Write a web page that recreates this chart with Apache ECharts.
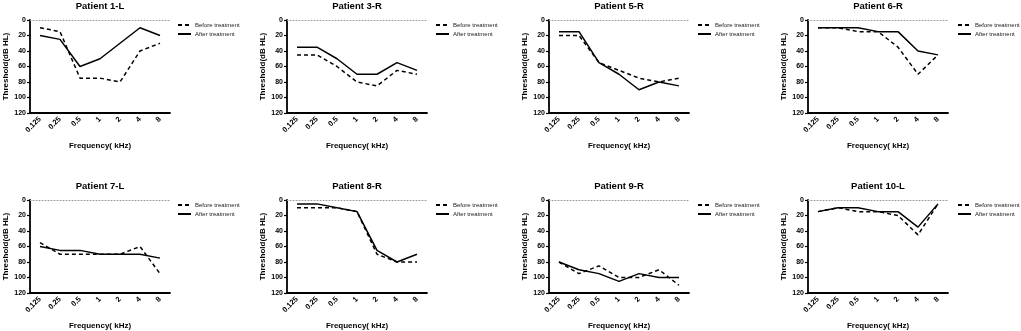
<!DOCTYPE html>
<html>
<head>
<meta charset="utf-8">
<script src="https://cdn.jsdelivr.net/npm/echarts@6/dist/echarts.min.js"></script>
<style>
  html, body { margin: 0; padding: 0; background: #fff; }
  #chart { width: 1021px; height: 331px; }
</style>
</head>
<body>
<div id="chart"></div>
<script>
  // 频率 (kHz)
  const freqs = ["0.125", "0.25", "0.5", "1", "2", "4", "8"];
  const titles = ["Patient 1-L", "Patient 3-R", "Patient 5-R", "Patient 6-R",
                  "Patient 7-L", "Patient 8-R", "Patient 9-R", "Patient 10-L"];
  const yTicks = [0, 20, 40, 60, 80, 100, 120];

  // 治疗前 / 治疗后 阈值 (dB HL)
  const p1Before = [10, 15, 75, 75, 80, 40, 30];
  const p1After = [20, 25, 60, 50, 30, 10, 20];
  const p3Before = [45, 45, 60, 80, 85, 65, 70];
  const p3After = [35, 35, 50, 70, 70, 55, 65];
  const p5Before = [20, 20, 55, 65, 75, 80, 75];
  const p5After = [15, 15, 55, 70, 90, 80, 85];
  const p6Before = [10, 10, 15, 15, 35, 70, 45];
  const p6After = [10, 10, 10, 15, 15, 40, 45];
  const p7Before = [55, 70, 70, 70, 70, 60, 95];
  const p7After = [60, 65, 65, 70, 70, 70, 75];
  const p8Before = [10, 10, 10, 15, 70, 80, 80];
  const p8After = [5, 5, 10, 15, 65, 80, 70];
  const p9Before = [80, 95, 85, 100, 100, 90, 110];
  const p9After = [80, 90, 95, 105, 95, 100, 100];
  const p10Before = [15, 10, 15, 15, 20, 45, 5];
  const p10After = [15, 10, 10, 15, 15, 35, 5];

  const beforeList = [p1Before, p3Before, p5Before, p6Before, p7Before, p8Before, p9Before, p10Before];
  const afterList = [p1After, p3After, p5After, p6After, p7After, p8After, p9After, p10After];

  const FONT = "Liberation Sans";
  const gridLefts = [30, 287, 549, 808];
  const legendLefts = [177, 435, 697, 957];
  const rowTops = [20, 200];

  const grids = [], xAxes = [], yAxes = [], titleArr = [], legends = [], series = [];

  titles.forEach((t, i) => {
    const col = i % 4;
    const row = Math.floor(i / 4);
    const left = gridLefts[col];
    const top = rowTops[row];

    grids.push({ left: left, top: top, width: 140, height: 93 });

    titleArr.push({
      text: t,
      left: left + 70,
      textAlign: "center",
      top: top - 19,
      padding: 0,
      textStyle: { fontFamily: FONT, fontSize: 9.5, fontWeight: "bold", color: "#000" },
    });

    legends.push({
      left: legendLefts[col],
      top: top + 2,
      padding: 0,
      orient: "vertical",
      itemWidth: 13,
      itemHeight: 6,
      itemGap: 3,
      itemStyle: { opacity: 0 },
      data: ["Before treatment", "After treatment"],
      textStyle: { fontFamily: FONT, fontSize: 6, color: "#222", padding: [0, 0, 0, -1] },
    });

    xAxes.push({
      type: "category",
      gridIndex: i,
      data: freqs,
      boundaryGap: true,
      name: "Frequency( kHz)",
      nameLocation: "middle",
      nameGap: 29,
      nameTextStyle: { fontFamily: FONT, fontSize: 8, fontWeight: "bold", color: "#000" },
      axisLine: { onZero: false, lineStyle: { color: "#000", width: 1.8 } },
      axisTick: { alignWithLabel: true, length: 3, lineStyle: { width: 1.2 } },
      axisLabel: { rotate: 45, fontFamily: FONT, fontSize: 7.5, fontWeight: "bold", color: "#000", margin: 5 },
    });
    // 顶部 0 dB 点线
    xAxes.push({
      type: "category",
      gridIndex: i,
      position: "top",
      data: freqs,
      axisLine: { show: true, onZero: false, lineStyle: { color: "#999", width: 1, type: [1, 2] } },
      axisTick: { show: false },
      axisLabel: { show: false },
    });

    yAxes.push({
      type: "value",
      gridIndex: i,
      inverse: true,
      min: yTicks[0],
      max: yTicks[yTicks.length - 1],
      interval: 20,
      name: "Threshold(dB HL)",
      nameLocation: "middle",
      nameGap: 20,
      nameTextStyle: { fontFamily: FONT, fontSize: 8, fontWeight: "bold", color: "#000" },
      axisLine: { show: true, lineStyle: { color: "#000", width: 1.8 } },
      axisTick: { show: true, length: 3, lineStyle: { width: 1.2 } },
      axisLabel: { fontFamily: FONT, fontSize: 7, fontWeight: "bold", color: "#000", margin: 4 },
      splitLine: { show: false },
    });

    series.push({
      name: "Before treatment",
      type: "line",
      xAxisIndex: i * 2,
      yAxisIndex: i,
      data: beforeList[i],
      symbol: "none",
      lineStyle: { color: "#000", width: 1.5, type: [4, 3] },
      itemStyle: { color: "#000" },
    });
    series.push({
      name: "After treatment",
      type: "line",
      xAxisIndex: i * 2,
      yAxisIndex: i,
      data: afterList[i],
      symbol: "none",
      lineStyle: { color: "#000", width: 1.5 },
      itemStyle: { color: "#000" },
    });
  });

  const chart = echarts.init(document.getElementById("chart"));
  chart.setOption({
    animation: false,
    backgroundColor: "#fff",
    title: titleArr,
    legend: legends,
    grid: grids,
    xAxis: xAxes,
    yAxis: yAxes,
    series: series,
  });
</script>
</body>
</html>
